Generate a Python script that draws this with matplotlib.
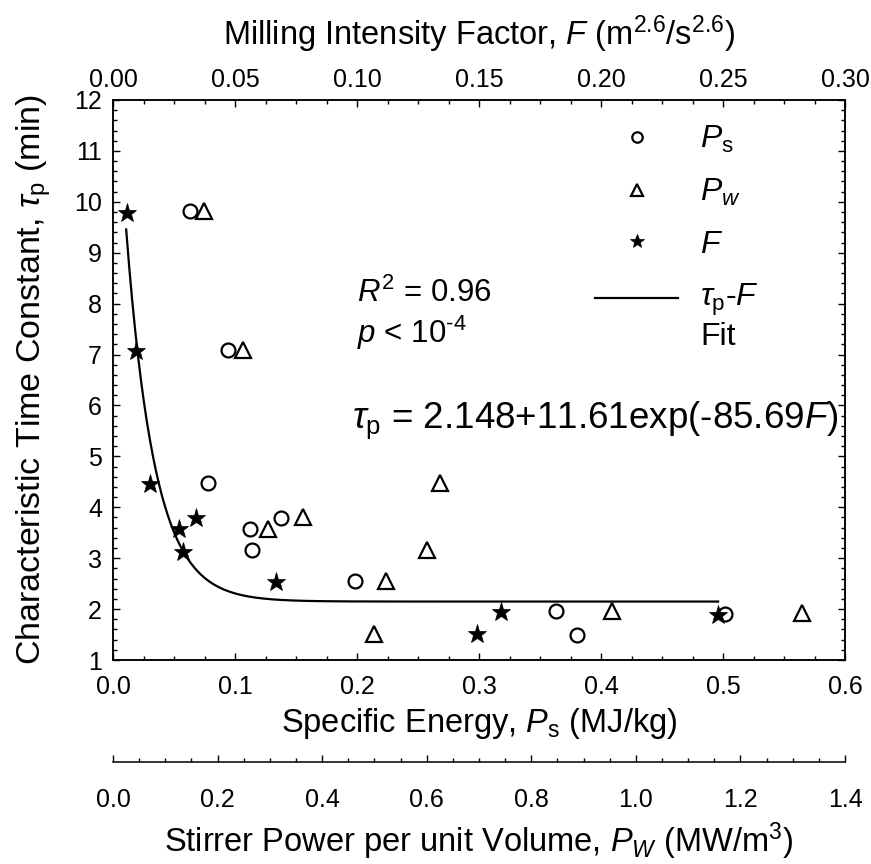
import numpy as np
import matplotlib
matplotlib.use("Agg")
import matplotlib.pyplot as plt
from matplotlib.ticker import MultipleLocator

plt.rcParams['font.family'] = ['Liberation Sans', 'DejaVu Sans']
plt.rcParams['mathtext.fontset'] = 'custom'
plt.rcParams['mathtext.rm'] = 'Liberation Sans'
plt.rcParams['mathtext.it'] = 'Liberation Sans:italic'
plt.rcParams['mathtext.bf'] = 'Liberation Sans:bold'

# tau_p vs specific energy Ps (MJ/kg)
ps_x = [0.063, 0.094, 0.078, 0.112, 0.138, 0.114, 0.198, 0.363, 0.380, 0.502]
ps_tau = [9.81, 7.08, 4.48, 3.58, 3.78, 3.16, 2.56, 1.97, 1.50, 1.90]

# tau_p vs stirrer power per volume Pw (MW/m3)
pw_x = [0.174, 0.249, 0.296, 0.363, 0.499, 0.522, 0.601, 0.625, 0.954, 1.318]
pw_tau = [9.82, 7.08, 3.57, 3.80, 1.51, 2.56, 3.16, 4.48, 1.97, 1.92]

# tau_p vs milling intensity factor F
f_x = [0.0056, 0.0094, 0.0152, 0.0272, 0.0340, 0.0285, 0.0667, 0.1490, 0.1590, 0.2480]
f_tau = [9.78, 7.06, 4.45, 3.58, 3.78, 3.13, 2.54, 1.51, 1.95, 1.89]

# fit  tau = a + b*exp(c*F)
fit_a, fit_b, fit_c = 2.148, 11.61, -85.69
fit_lo, fit_hi = 0.0054, 0.248

fig = plt.figure(figsize=(8.71, 8.64), dpi=100)
ax = fig.add_axes([113/871, 1 - 660/864, 732/871, 560/864])
ax.set_xlim(0, 0.6)
ax.set_ylim(1, 12)

axF = ax.twiny()
axF.set_xlim(0, 0.3)

axW = ax.twiny()
axW.set_xlim(0, 1.4)
axW.xaxis.set_ticks_position('bottom')
axW.xaxis.set_label_position('bottom')
axW.spines['bottom'].set_position(('outward', 102 * 0.72))
for s in ['top', 'left', 'right']:
    axW.spines[s].set_visible(False)

for a in [ax, axF, axW]:
    for s in a.spines.values():
        s.set_linewidth(1.1)

ax.xaxis.set_major_locator(MultipleLocator(0.1))
ax.xaxis.set_minor_locator(MultipleLocator(0.025))
ax.yaxis.set_major_locator(MultipleLocator(1))
ax.yaxis.set_minor_locator(MultipleLocator(0.2))
axF.xaxis.set_major_locator(MultipleLocator(0.05))
axF.xaxis.set_minor_locator(MultipleLocator(0.0125))
axW.xaxis.set_major_locator(MultipleLocator(0.2))
axW.xaxis.set_minor_locator(MultipleLocator(0.05))

tick_fs = 18
ax.tick_params(which='both', direction='in', right=True, top=False, labelsize=tick_fs, width=1)
ax.tick_params(which='major', length=5)
ax.tick_params(which='minor', length=3)
ax.tick_params(axis='x', pad=11)
ax.tick_params(axis='y', pad=8)
axF.tick_params(which='both', direction='in', labelsize=tick_fs, width=1, pad=6)
axF.tick_params(which='major', length=5)
axF.tick_params(which='minor', length=3)
axW.tick_params(which='both', direction='in', labelsize=tick_fs, width=1, pad=19)
axW.tick_params(which='major', length=5)
axW.tick_params(which='minor', length=3)

# data
h_ps, = ax.plot(ps_x, ps_tau, 'o', ms=10, mfc='none', mec='black', mew=1.6, label=r'$P_\mathrm{s}$')
h_pw, = axW.plot(pw_x, pw_tau, '^', ms=12, mfc='none', mec='black', mew=1.6, label=r'$P_w$')
h_f, = axF.plot(f_x, f_tau, '*', ms=14, mfc='black', mec='black', mew=0.5, label=r'$F$')

F = np.linspace(fit_lo, fit_hi, 400)
h_fit, = axF.plot(F, fit_a + fit_b * np.exp(fit_c * F), '-', color='black', lw=1.6,
                  label='$\\tau_\\mathrm{p}$-$F$\nFit')

leg = axW.legend([h_ps, h_pw, h_f, h_fit], [h.get_label() for h in [h_ps, h_pw, h_f, h_fit]],
                 loc='upper left', bbox_to_anchor=(595/871, 1 - 124/864), bbox_transform=fig.transFigure,
                 frameon=False, fontsize=23, handlelength=2.6, handletextpad=0.7, labelspacing=0.68,
                 borderpad=0, borderaxespad=0, markerscale=0.75)
# put the fit line level with the first line of its two-line label
fit_handle = leg.legend_handles[3]
fit_handle.set_ydata(np.asarray(fit_handle.get_ydata()) + 14)

ax.text(0.2, 8.2, r'$R^2$ = 0.96', fontsize=22.5, va='center')
ax.text(0.2, 7.42, r'$p$ < 10$^{\text{-4}}$', fontsize=22.5, va='center')
ax.text(0.196, 5.71, r'$\tau_\mathrm{p}$ = 2.148+11.61exp(-85.69$F$)', fontsize=26.5, va='center')

ax.set_ylabel(r'Characteristic Time Constant, $\tau_\mathrm{p}$ (min)', fontsize=24.5)
ax.set_xlabel(r'Specific Energy, $P_\mathrm{s}$ (MJ/kg)', fontsize=23.5)
axF.set_xlabel(r'Milling Intensity Factor, $F$ (m$^{2.6}$/s$^{2.6}$)', fontsize=23.5)
axW.set_xlabel(r'Stirrer Power per unit Volume, $P_W$ (MW/m$^3$)', fontsize=23.5)

ax.yaxis.set_label_coords(-0.082, 0.5)
ax.xaxis.set_label_coords(0.5, -0.082)
axF.xaxis.set_label_coords(0.5, 1.098)
axW.xaxis.set_label_coords(0.5, -0.2875)

fig.savefig('out.png', dpi=100)
